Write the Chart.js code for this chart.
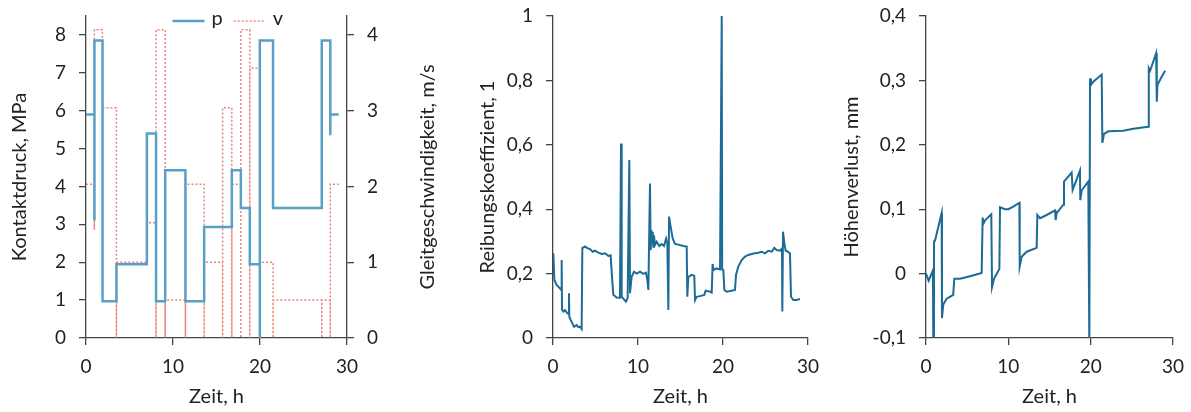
<!DOCTYPE html>
<html>
<head>
<meta charset="utf-8">
<script src="https://cdn.jsdelivr.net/npm/chart.js@4/dist/chart.umd.min.js"></script>
<style>
body{margin:0;background:#fff;width:1191px;height:412px;overflow:hidden;position:relative}
canvas{position:absolute;top:0}
</style>
</head>
<body>
<canvas id="c1" width="450" height="412" style="left:0"></canvas>
<canvas id="c2" width="356" height="412" style="left:464px"></canvas>
<canvas id="c3" width="361" height="412" style="left:830px"></canvas>
<script>
// Stufen: Startzeit (h) und Wert, doppelte Zeiten = senkrechte Sprünge
const pTime=[0,0.97,0.97,1.9,3.5,7.0,8.05,9.1,11.43,13.58,16.76,17.8,18.83,19.98,19.98,21.5,27.1,28.08,28.08,29.04];
const pVal =[5.9,3.1,7.85,0.97,1.95,5.4,0.97,4.43,0.97,2.93,4.43,3.43,1.95,0,7.85,3.43,7.85,5.35,5.9,5.9];
const vTime=[0,0.96,0.96,1.88,3.5,3.5,7.0,8.05,8.05,9.1,9.1,11.43,11.43,13.58,13.58,15.7,15.7,16.76,16.76,17.8,17.8,18.83,18.83,19.98,19.98,21.5,21.5,27.1,27.1,28.08,28.08,29.04];
const vVal =[2.03,1.43,4.07,3.04,0,1.0,1.52,0,4.07,0,0.5,0,2.03,0,1.0,0,3.04,0,2.03,0,4.07,0,3.56,0,1.0,0,0.5,0,0.5,0,2.03,2.03];

// Reibungskoeffizient
const fTime=[0.04,0.16,0.43,0.82,0.98,1.02,1.06,1.22,1.41,1.61,1.8,1.88,1.92,2.08,2.31,2.47,2.78,2.98,3.18,3.37,
 3.45,3.76,4.04,4.35,4.67,4.94,5.33,5.73,6.12,6.51,6.78,6.94,7.1,7.49,7.88,8.0,8.08,8.35,8.59,8.78,8.98,9.06,9.25,
 9.53,9.84,10.24,10.63,10.94,11.1,11.22,11.41,11.49,11.57,11.65,11.73,11.8,11.88,12.0,12.2,12.51,12.78,13.06,13.3,
 13.45,13.57,13.65,13.84,14.08,14.35,14.75,15.33,15.73,15.8,15.92,16.31,16.62,16.71,16.9,17.29,17.8,17.96,18.47,
 18.67,18.78,18.9,19.25,19.65,19.85,19.9,20.04,20.16,20.43,21.02,21.41,21.53,21.8,22.2,22.59,22.98,23.37,23.76,
 24.16,24.55,24.94,25.33,25.73,26.04,26.31,26.71,26.94,26.98,27.06,27.22,27.37,27.61,27.88,28.0,28.27,28.67,29.06];
const fVal=[0.263,0.18,0.165,0.154,0.149,0.242,0.087,0.082,0.087,0.079,0.075,0.139,0.066,0.056,0.044,0.035,0.04,0.034,0.035,0.028,
 0.279,0.284,0.279,0.276,0.268,0.271,0.265,0.261,0.263,0.255,0.257,0.19,0.134,0.126,0.125,0.604,0.128,0.12,0.113,0.124,0.553,0.139,0.19,
 0.206,0.2,0.206,0.199,0.203,0.18,0.149,0.48,0.273,0.335,0.294,0.33,0.283,0.319,0.289,0.299,0.286,0.292,0.286,0.309,
 0.294,0.087,0.377,0.346,0.309,0.292,0.29,0.286,0.284,0.128,0.19,0.196,0.193,0.118,0.128,0.13,0.134,0.147,0.144,
 0.141,0.23,0.211,0.216,0.213,1.0,0.213,0.211,0.149,0.144,0.147,0.149,0.196,0.222,0.242,0.253,0.258,0.261,0.263,
 0.265,0.268,0.263,0.271,0.268,0.28,0.273,0.271,0.278,0.082,0.33,0.294,0.271,0.268,0.263,0.128,0.118,0.118,0.121];

// Höhenverlust
const hTime=[0,0.32,0.84,0.89,0.97,1.09,1.9,1.94,2.1,2.5,2.9,3.3,3.44,4.13,5.34,6.76,6.88,7.0,7.2,7.93,8.02,8.26,8.91,8.99,
 9.6,10.0,10.6,11.34,11.38,11.62,12.23,13.44,13.52,13.85,14.66,15.67,15.75,15.87,16.68,16.76,17.69,17.81,18.7,18.74,
 18.9,19.71,19.84,19.92,20.04,20.32,21.34,21.42,21.62,22.15,23.97,25.18,27.0,27.06,27.22,27.95,28.03,28.11,28.64,29.05];
const hVal=[0,-0.011,0.005,-0.12,0.05,0.051,0.094,-0.069,-0.048,-0.039,-0.036,-0.033,-0.008,-0.008,-0.004,0.001,0.087,0.078,0.083,0.092,-0.021,-0.008,0.007,0.103,
 0.1,0.1,0.104,0.11,0.011,0.026,0.034,0.04,0.091,0.086,0.091,0.098,0.083,0.094,0.107,0.143,0.157,0.13,0.16,0.114,
 0.129,0.143,-0.12,0.303,0.293,0.298,0.309,0.203,0.217,0.221,0.222,0.225,0.228,0.319,0.315,0.342,0.267,0.293,0.306,0.315];

const xTicks=[0,10,20,30];
const pLabel="p", vLabel="v";
const pTitle="Kontaktdruck, MPa", vTitle="Gleitgeschwindigkeit, m/s";
const fTitle="Reibungskoeffizient, 1", hTitle="Höhenverlust, mm", xTitle="Zeit, h";

const FAM="Lato", SIZE=19, TSIZE=20, TXT="#222", AX="#444";
const PCOL="#5a9fc5", VCOL="rgba(228,100,92,0.8)", LCOL="#1d6b97";
Chart.defaults.font.family=FAM;
Chart.defaults.font.size=SIZE;
Chart.defaults.color=TXT;
Chart.defaults.animation=false;

const pts=(t,v)=>t.map((x,i)=>({x,y:v[i]}));
const comma=v=>String(Math.round(v*10)/10).replace(".",",");

function xAxis(){
  return {type:"linear",min:0,max:30,
    afterBuildTicks(s){s.ticks=xTicks.map(value=>({value}));},
    afterFit(s){s.height=74;s.paddingLeft=0;s.paddingRight=0;},
    border:{color:AX,width:1.3},
    grid:{drawOnChartArea:false,tickLength:7,color:AX,lineWidth:1.3},
    ticks:{padding:10,maxRotation:0},
    title:{display:true,text:xTitle,font:{size:TSIZE},padding:{top:2,bottom:3}}};
}
function yAxis(pos,min,max,step,w,title,pad,fmt){
  return {type:"linear",position:pos,min,max,
    // feste Breite, keine Zusatzränder -> Plotfläche liegt wie im Original
    afterFit(s){s.width=w;s.paddingTop=0;s.paddingBottom=0;},
    border:{color:AX,width:1.3},
    grid:{drawOnChartArea:false,tickLength:7,color:AX,lineWidth:1.3},
    ticks:{stepSize:step,includeBounds:false,padding:13,callback:fmt||(v=>v)},
    title:{display:!!title,text:title,font:{size:TSIZE},padding:{top:pad,bottom:0}}};
}

// Legende und rechte Achsenbeschriftung (gedreht wie links)
const panel1Extras={
  id:"panel1Extras",
  afterDraw(ch){
    const {ctx,chartArea:a}=ch, s=ch.scales.y1;
    ctx.save();
    ctx.font=TSIZE+"px "+FAM;
    ctx.fillStyle=TXT;
    ctx.textBaseline="middle";
    ctx.translate(s.right-22,(a.top+a.bottom)/2);
    ctx.rotate(-Math.PI/2);
    ctx.textAlign="center";
    ctx.fillText(vTitle,0,0);
    ctx.restore();

    ctx.save();
    ctx.font=TSIZE+"px "+FAM;
    ctx.textBaseline="middle";
    ctx.textAlign="left";
    let x=(a.left+a.right)/2-44, y=a.top+5;
    ch.data.datasets.forEach(d=>{
      ctx.strokeStyle=d.borderColor;
      ctx.lineWidth=d.borderWidth;
      ctx.setLineDash(d.borderDash||[]);
      ctx.beginPath();ctx.moveTo(x,y);ctx.lineTo(x+32,y);ctx.stroke();
      ctx.fillStyle=TXT;
      ctx.fillText(d.label,x+39,y-2);
      x+=39+ctx.measureText(d.label).width+11;
    });
    ctx.restore();
  }
};

new Chart(c1,{
  type:"line",
  data:{datasets:[
    {label:pLabel,data:pts(pTime,pVal),yAxisID:"y",stepped:true,borderColor:PCOL,borderWidth:2.5,pointRadius:0},
    {label:vLabel,data:pts(vTime,vVal),yAxisID:"y1",stepped:true,borderColor:VCOL,borderWidth:1.5,borderDash:[2,2],pointRadius:0}
  ]},
  options:{responsive:false,layout:{padding:{top:16,left:0,right:0,bottom:0}},
    plugins:{legend:{display:false},tooltip:{enabled:false}},
    scales:{x:xAxis(),
      y:yAxis("left",0,8.5,1,86,pTitle,8),
      y1:yAxis("right",0,4.25,1,103,"",0)}},
  plugins:[panel1Extras]
});

new Chart(c2,{
  type:"line",
  data:{datasets:[{label:fTitle,data:pts(fTime,fVal),borderColor:LCOL,borderWidth:2,pointRadius:0}]},
  options:{responsive:false,layout:{padding:{top:16,left:0,right:12,bottom:0}},
    plugins:{legend:{display:false},tooltip:{enabled:false}},
    scales:{x:xAxis(),y:yAxis("left",0,1,0.2,89,fTitle,12,comma)}}
});

new Chart(c3,{
  type:"line",
  data:{datasets:[{label:hTitle,data:pts(hTime,hVal),borderColor:LCOL,borderWidth:2,pointRadius:0}]},
  options:{responsive:false,layout:{padding:{top:16,left:0,right:18,bottom:0}},
    plugins:{legend:{display:false},tooltip:{enabled:false}},
    scales:{x:xAxis(),y:yAxis("left",-0.1,0.4,0.1,96,hTitle,10,comma)}}
});
</script>
</body>
</html>
